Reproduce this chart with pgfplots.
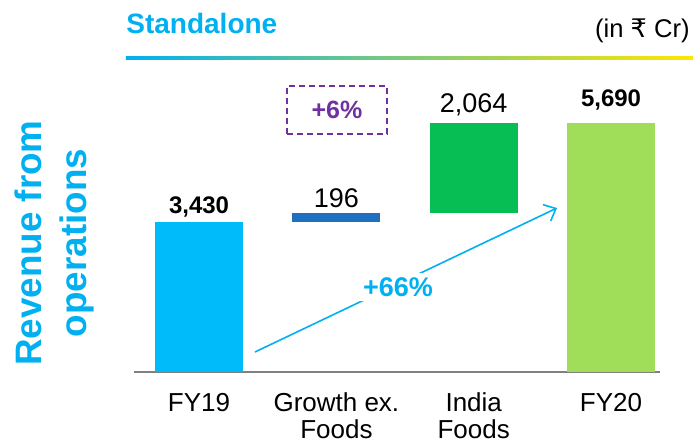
\documentclass[border=0pt]{standalone}
\usepackage{pgfplots}
\pgfplotsset{compat=1.18}
\usepackage{fontspec}
\setmainfont{Liberation Sans}
\newfontfamily\dejavu{DejaVu Sans}
\usetikzlibrary{arrows.meta}
\definecolor{cyanT}{HTML}{00B0F0}
\definecolor{barFY19}{HTML}{00BBF9}
\definecolor{barGrowth}{HTML}{1F70C1}
\definecolor{barIndia}{HTML}{07BE55}
\definecolor{barFY20}{HTML}{A0DE59}
\definecolor{purpleT}{HTML}{7030A0}
\definecolor{lineYellow}{HTML}{FFE600}
\definecolor{lineMid}{RGB}{180,200,170}
\begin{document}
\begin{tikzpicture}
\begin{axis}[
    scale only axis, width=263pt, height=156pt,
    xmin=-0.473, xmax=3.357, ymin=0, ymax=7130,
    enlargelimits=false,
    ybar stacked, bar width=0.64,
    axis x line=bottom, axis y line=none,
    x axis line style={-, draw=gray, line width=0.75pt},
    xtick={0,1,2,3},
    xticklabels={FY19,{Growth ex.\\Foods},{India\\Foods},FY20},
    xticklabel style={align=center, font=\fontsize{13}{13.5}\selectfont, yshift=-7pt},
    major tick length=0pt,
    ytick=\empty,
    clip=false,
]
% invisible base of the floating bars
\addplot[fill=none, draw=none] coordinates {(0,0) (1,3430) (2,3626) (3,0)};
\addplot[fill=barFY19, draw=none] coordinates {(0,3430) (1,0) (2,0) (3,0)};
\addplot[fill=barGrowth, draw=none] coordinates {(0,0) (1,196) (2,0) (3,0)};
\addplot[fill=barIndia, draw=none] coordinates {(0,0) (1,0) (2,2064) (3,0)};
\addplot[fill=barFY20, draw=none] coordinates {(0,0) (1,0) (2,0) (3,5690)};

\node[anchor=base, yshift=4pt, font=\bfseries\fontsize{12}{14}\selectfont] at (axis cs:0,3430) {3,430};
\node[anchor=base, yshift=3pt, font=\fontsize{13.5}{15}\selectfont] at (axis cs:1,3626) {196};
\node[anchor=base, yshift=5.5pt, font=\fontsize{13.5}{15}\selectfont] at (axis cs:2,5690) {2,064};
\node[anchor=base, yshift=8.5pt, font=\bfseries\fontsize{12}{14}\selectfont] at (axis cs:3,5690) {5,690};

% lower left corner of the whole picture, in data units
\coordinate (O) at (axis cs:-1.4494,-1554);
\end{axis}

\begin{scope}[shift={(O)}, x=0.5pt, y=0.5pt]
\path (0,0) rectangle (693,440);
% header
\node[anchor=base west, inner sep=0, text=cyanT, font=\bfseries\fontsize{14}{16}\selectfont] at (126,406) {Standalone};
\node[anchor=base east, inner sep=0, font=\fontsize{12.8}{15}\selectfont] at (690,402) {(in {\dejavu ₹} Cr)};
\shade[left color=cyanT, middle color=lineMid, right color=lineYellow] (126,380) rectangle (693,383);

% y label
\node[rotate=90, text=cyanT, font=\bfseries\fontsize{18.4}{20}\selectfont] at (28,197) {Revenue from};
\node[rotate=90, text=cyanT, font=\bfseries\fontsize{18.4}{20}\selectfont] at (77,197) {operations};

% +6% box
\node[draw=purpleT, dash pattern=on 3pt off 2pt, line width=1pt, minimum width=50pt, minimum height=24pt,
      text=purpleT, font=\bfseries\fontsize{12.5}{14}\selectfont] at (337,330) {+6\%};

% +66% arrow
\draw[cyanT, line width=0.8pt, -{Straight Barb[length=5pt,width=9pt]}] (255,88) -- (557,232);
\node[fill=white, text=cyanT, inner xsep=8pt, inner ysep=2pt, font=\bfseries\fontsize{13.5}{15}\selectfont] at (398,153) {+66\%};
\end{scope}
\end{tikzpicture}
\end{document}
